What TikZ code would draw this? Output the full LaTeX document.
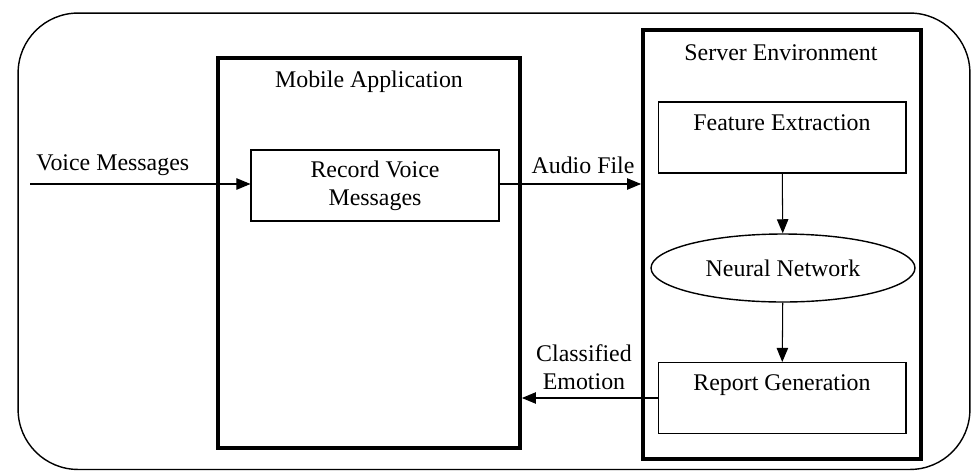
\documentclass[tikz,border=0pt]{standalone}
\usepackage{fontspec}
\setmainfont{Liberation Serif}
\usetikzlibrary{shapes.geometric,arrows.meta}

\begin{document}
\begin{tikzpicture}[
    x=0.02cm, y=-0.02cm,
    every node/.style={font=\fontsize{13.6}{16}\selectfont},
    frame/.style={rectangle, draw, line width=0.8pt, rounded corners=1.2cm, inner sep=0pt},
    part/.style={rectangle, draw, line width=2.2pt, inner sep=0pt},
    box/.style={rectangle, draw, line width=0.6pt, inner sep=0pt, align=center, minimum width=4.96cm},
    topbox/.style={box, text height=0.56cm, text depth=0.86cm},
    net/.style={ellipse, draw, line width=0.8pt, inner sep=0pt, minimum width=5.28cm, minimum height=1.36cm},
    lbl/.style={inner sep=0pt, align=center},
    arrow/.style={-{Triangle[length=8pt,width=6.5pt]}, line width=0.6pt}
]
\useasboundingbox (0,0) rectangle (971,471);

% Frame
\node[frame, minimum width=19.04cm, minimum height=9.13cm] (frame) at (494,241.25) {};

% Parts
\node[part, minimum width=6.04cm, minimum height=7.8cm] (mobile) at (369,253) {};
\node[lbl] (mobiletitle) at (369,82) {Mobile Application};
\node[part, minimum width=5.56cm, minimum height=8.58cm] (server) at (782,244.5) {};
\node[lbl] (servertitle) at (781,53) {Server Environment};

% Blocks
\node[box, minimum height=1.42cm] (record) at (375,185.5) {Record Voice\\Messages};
\node[topbox] (feature) at (782,137.5) {Feature Extraction};
\node[net] (neural) at (783,268) {Neural Network};
\node[topbox] (report) at (782,398) {Report Generation};

% Flows
\coordinate (voicein) at (30,184);
\node[lbl, anchor=west] (voicelbl) at (36,165) {Voice Messages};
\draw[arrow] (voicein) -- (voicein -| record.west);

\node[lbl] (audiolbl) at (583,165) {Audio File};
\draw[arrow] (record.east |- voicein) -- (voicein -| server.west);

\draw[arrow] (feature) -- (neural);
\draw[arrow] (neural) -- (report);

\node[lbl] (emotionlbl) at (584,367) {Classified\\Emotion};
\draw[arrow] (report.west) -- (report.west -| mobile.east);

\end{tikzpicture}
\end{document}
